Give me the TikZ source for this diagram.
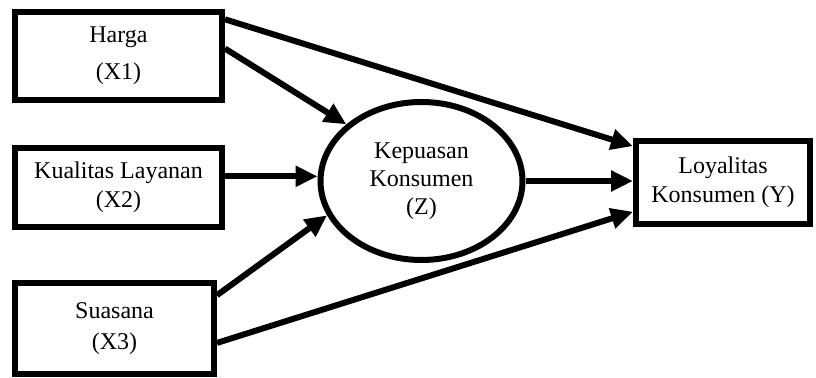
\documentclass[tikz,border=0pt]{standalone}
\usepackage{fontspec}
\setmainfont{Liberation Serif}
\usetikzlibrary{shapes.geometric,arrows.meta}

\begin{document}
\begin{tikzpicture}[x=0.5pt, y=-0.5pt, line width=3pt,
    box/.style={draw, rectangle, align=center, inner sep=0pt,
        font=\fontsize{12}{14.5}\selectfont},
    oval/.style={draw, ellipse, align=center, inner sep=0pt,
        minimum width=101pt, minimum height=79pt,
        font=\fontsize{12}{14}\selectfont},
    arr/.style={-{Triangle[length=11pt,width=10pt]}}]
\useasboundingbox (0,0) rectangle (816,378);

% variabel
\node[box, minimum width=103.5pt, minimum height=44pt] (x1) at (118.5,56) {Harga\\[4pt](X1)};
\node[box, minimum width=103.5pt, minimum height=39.5pt] (x2) at (118.5,187.5) {Kualitas Layanan\\(X2)};
\node[box, minimum width=99.5pt, minimum height=45.5pt] (x3) at (114.5,328.5) {Suasana\\[1pt](X3)};
\node[oval] (z) at (421.5,181) {Kepuasan\\Konsumen\\(Z)};
\node[box, minimum width=87pt, minimum height=41.5pt] (y) at (723,182.5) {Loyalitas\\Konsumen (Y)};

% jalur
\draw[arr] (x1.19) -- (y.158);
\draw[arr] (x1.4) -- (z.143);
\draw[arr] (x2.6) -- (x2.6 -| z.west);
\draw[arr] (x3.18) -- (z.200);
\draw[arr] (x3.-8) -- (y.198);
\draw[arr] (z.east) -- (z.east -| y.west);
\end{tikzpicture}
\end{document}
